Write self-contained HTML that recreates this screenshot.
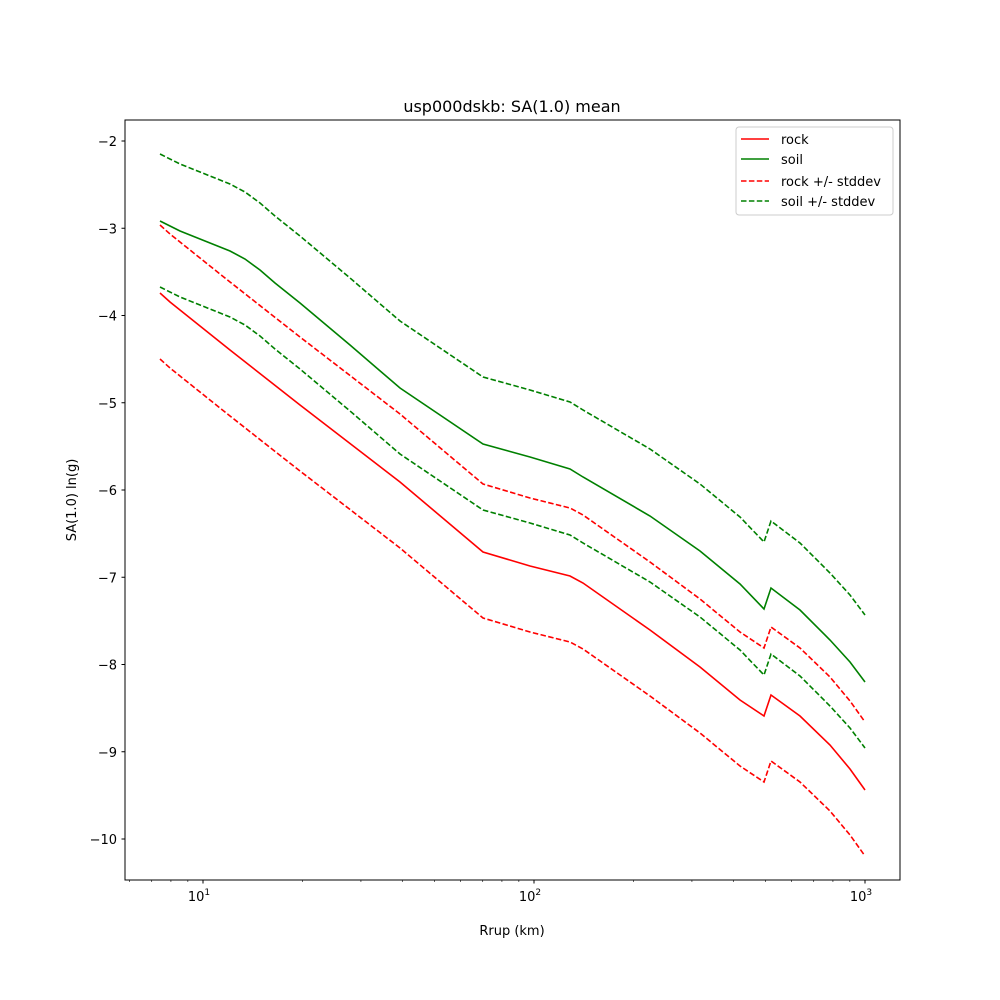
<!DOCTYPE html>
<html><head><meta charset="utf-8"><style>body{margin:0;background:#fff}svg{display:block}text{font-family:"DejaVu Sans","Liberation Sans",sans-serif;fill:#000}</style></head>
<body>
<svg id="s" width="1000" height="1000" xmlns="http://www.w3.org/2000/svg">
<rect width="1000" height="1000" fill="#fff"/>
<g id="plot"></g>
<rect x="125" y="120" width="775" height="760" fill="none" stroke="#000" stroke-width="1"/>
<text x="512" y="112" font-size="16" text-anchor="middle">usp000dskb: SA(1.0) mean</text>
<text x="512" y="935" font-size="13" text-anchor="middle">Rrup (km)</text>
<text x="76" y="500" font-size="13" text-anchor="middle" transform="rotate(-90 76 500)">SA(1.0) ln(g)</text>
<g id="ticks"></g>
<rect x="736" y="127" width="157" height="88" rx="3" fill="#fff" fill-opacity="0.8" stroke="#ccc"/>
<line x1="741" y1="139" x2="769" y2="139" stroke="red" stroke-width="1.5"/>
<text x="781" y="144" font-size="13">rock</text>
<line x1="741" y1="159" x2="769" y2="159" stroke="green" stroke-width="1.5"/>
<text x="781" y="164" font-size="13">soil</text>
<line x1="741" y1="181" x2="769" y2="181" stroke="red" stroke-width="1.5" stroke-dasharray="5.5,2.4"/>
<text x="781" y="186" font-size="13">rock +/- stddev</text>
<line x1="741" y1="201" x2="769" y2="201" stroke="green" stroke-width="1.5" stroke-dasharray="5.5,2.4"/>
<text x="781" y="206" font-size="13">soil +/- stddev</text>
</svg>
<script>
var NS="http://www.w3.org/2000/svg";
function el(p,t,a,txt){var e=document.createElementNS(NS,t);for(var k in a)e.setAttribute(k,a[k]);if(txt)e.textContent=txt;p.appendChild(e);return e;}
var plot=document.getElementById('plot'),ticks=document.getElementById('ticks');
var rock=[[160,293],[170,302],[180,310],[200,326],[230,350],[300,405],[400,482],[483,552],[530,566],[570,576],[583,583],[650,630],[700,667],[740,700],[764,716],[771,695],[800,716],[830,745],[850,769],[865,790]];
var soil=[[160,221],[180,231],[205,241],[230,251],[245,259],[260,270],[275,283],[300,303],[350,345],[400,388],[483,444],[530,457],[570,469],[583,477],[650,516],[700,551],[740,584],[764,609],[771,588],[800,610],[830,640],[850,662],[865,682]];
function pts(a,d){return a.map(function(p){return p[0]+','+(p[1]+d)}).join(' ');}
el(plot,'polyline',{points:pts(rock,-68),fill:'none',stroke:'red','stroke-width':1.6,'stroke-dasharray':'5.5,2.4'});
el(plot,'polyline',{points:pts(rock,66),fill:'none',stroke:'red','stroke-width':1.6,'stroke-dasharray':'5.5,2.4'});
el(plot,'polyline',{points:pts(soil,-67),fill:'none',stroke:'green','stroke-width':1.6,'stroke-dasharray':'5.5,2.4'});
el(plot,'polyline',{points:pts(soil,66),fill:'none',stroke:'green','stroke-width':1.6,'stroke-dasharray':'5.5,2.4'});
el(plot,'polyline',{points:pts(rock,0),fill:'none',stroke:'red','stroke-width':1.6});
el(plot,'polyline',{points:pts(soil,0),fill:'none',stroke:'green','stroke-width':1.6});
for(var v=-2;v>=-10;v--){var y=141+(-2-v)*87.25;el(ticks,'line',{x1:125,x2:121.5,y1:y,y2:y,stroke:'#000'});el(ticks,'text',{x:117,y:y+5,'font-size':13,'text-anchor':'end'},'\u2212'+(-v));}
function X(r){return 203+331*(Math.log10(r)-1);}
[[10,'1'],[100,'2'],[1000,'3']].forEach(function(d){var x=X(d[0]);el(ticks,'line',{x1:x,x2:x,y1:880,y2:883.5,stroke:'#000'});var t=el(ticks,'text',{x:x-4,y:901,'font-size':13,'text-anchor':'middle'},'10');el(t,'tspan',{dy:-6,'font-size':9},d[1]);});
[6,7,8,9,20,30,40,50,60,70,80,90,200,300,400,500,600,700,800,900].forEach(function(r){var x=X(r);el(ticks,'line',{x1:x,x2:x,y1:880,y2:882,stroke:'#000','stroke-width':0.6});});
</script>
</body></html>
